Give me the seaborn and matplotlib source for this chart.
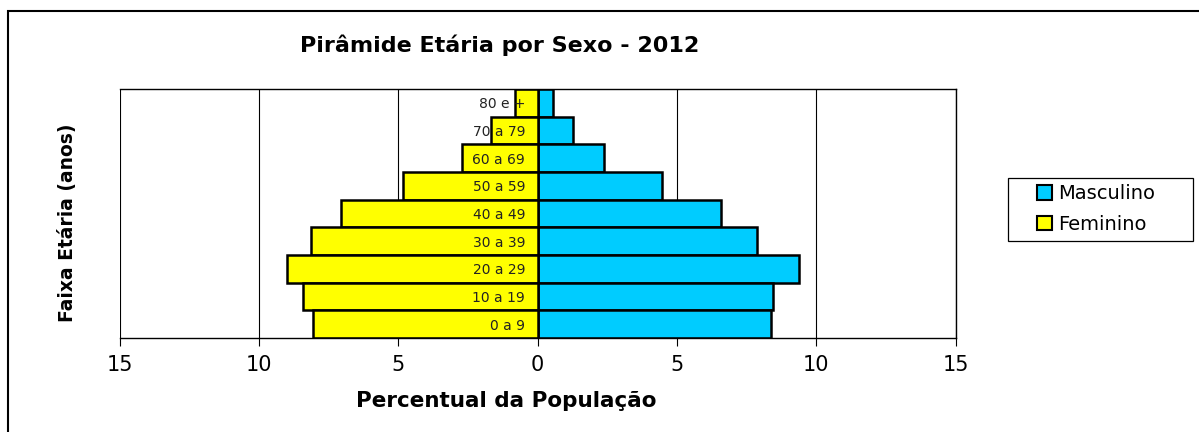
import matplotlib
matplotlib.use("Agg")
import matplotlib.pyplot as plt
import seaborn as sns
import pandas as pd
from matplotlib.patches import Rectangle
from matplotlib.ticker import FuncFormatter

sns.set_theme(style="white")
plt.rcParams['font.family'] = ['DejaVu Sans']
plt.rcParams.update({"text.color": "black", "axes.labelcolor": "black",
                     "xtick.color": "black", "ytick.color": "black"})

# faixas etarias, de cima para baixo
faixas = ["80 e +", "70 a 79", "60 a 69", "50 a 59", "40 a 49",
          "30 a 39", "20 a 29", "10 a 19", "0 a 9"]
masculino = [0.55, 1.26, 2.40, 4.48, 6.59, 7.87, 9.38, 8.46, 8.37]
feminino = [0.82, 1.67, 2.70, 4.84, 7.05, 8.14, 9.00, 8.40, 8.06]
x_ticks = [-15, -10, -5, 0, 5, 10, 15]

cores = {"Masculino": "#00CCFF", "Feminino": "#FFFF00"}

df = pd.concat([
    pd.DataFrame({"faixa": faixas, "valor": masculino, "sexo": "Masculino"}),
    pd.DataFrame({"faixa": faixas, "valor": [-v for v in feminino], "sexo": "Feminino"}),
])

W, H = 1199, 432
fig = plt.figure(figsize=(W / 100, H / 100), dpi=100)
ax = fig.add_axes([119.5 / W, 1 - 338 / H, 836.2 / W, 249 / H])

sns.barplot(data=df, x="valor", y="faixa", hue="sexo", order=faixas,
            hue_order=["Masculino", "Feminino"], palette=cores, dodge=False,
            width=1.0, edgecolor="black", linewidth=1.8, saturation=1, ax=ax)

ax.set_xlim(-15, 15)
ax.set_xticks(x_ticks)
ax.xaxis.set_major_formatter(FuncFormatter(lambda v, p: f"{abs(v):.0f}"))
ax.grid(axis="x", color="black", linewidth=0.8)
ax.grid(axis="y", visible=False)

# rotulos das faixas ficam junto ao zero, por cima das barras
ax.spines["left"].set_position(("data", 0))
ax.spines["left"].set_visible(False)
for s in ["top", "right", "bottom"]:
    ax.spines[s].set_visible(True)
    ax.spines[s].set_color("black")
    ax.spines[s].set_linewidth(1.0)
ax.xaxis.set_zorder(0.5)
ax.yaxis.set_zorder(3)
ax.tick_params(axis="y", length=0, pad=9, labelsize=10, labelcolor="#222222")
ax.tick_params(axis="x", bottom=True, direction="out", length=6, width=0.8,
               color="black", labelsize=15, pad=6)
ax.set_ylabel("")
ax.set_xlabel("Percentual da População", fontsize=15.5, fontweight="bold")
ax.xaxis.set_label_coords((506 - 119.5) / 836.2, (338 - 401) / 249)
ax.xaxis.label.set_va("center")

fig.text(67 / W, 1 - 223 / H, "Faixa Etária (anos)", rotation=90, ha="center",
         va="center", fontsize=13.5, fontweight="bold")
fig.text(500 / W, 1 - 45 / H, "Pirâmide Etária por Sexo - 2012", ha="center",
         va="center", fontsize=16, fontweight="bold")

# legenda com caixa larga, como no original
leg = ax.legend(loc="center", bbox_to_anchor=(1096 / W, 1 - 209 / H),
                bbox_transform=fig.transFigure, frameon=False, fontsize=14,
                handlelength=0.75, handleheight=0.75, handletextpad=0.3,
                labelspacing=0.6)
for h in leg.legend_handles:
    h.set_edgecolor("black")
    h.set_linewidth(1.5)
fig.patches.append(Rectangle((1008 / W, 1 - 241 / H), 185 / W, 63 / H,
                             transform=fig.transFigure, fill=False,
                             edgecolor="black", linewidth=0.9))

# moldura externa do grafico
fig.patches.append(Rectangle((8 / W, -0.1), 1.2, 1 - 11 / H + 0.1,
                             transform=fig.transFigure, fill=False,
                             edgecolor="black", linewidth=1.5))

fig.savefig("out.png", dpi=100)
